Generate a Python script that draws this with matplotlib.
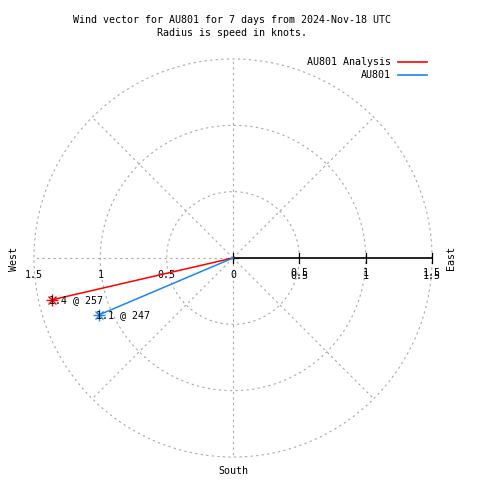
import numpy as np
import matplotlib
matplotlib.use("Agg")
import matplotlib.pyplot as plt

# data
names = ["AU801 Analysis", "AU801"]
speeds = [1.4, 1.1]          # knots
directions = [257, 247]      # degrees, clockwise from north
colors = ["#ff0000", "#1c86ee"]
rings = [0.5, 1.0, 1.5]
tick_vals = [0, 0.5, 1, 1.5]

title1 = "Wind vector for AU801 for 7 days from 2024-Nov-18 UTC"
title2 = "Radius is speed in knots."

plt.rcParams['font.family'] = ['DejaVu Sans Mono']
FS = 7.2

fig = plt.figure(figsize=(4.8, 4.8), dpi=100)
ax = fig.add_axes([0, 0, 1, 1])
S = 132.7  # pixels per knot
cx, cy = 233, 258
ax.set_xlim(-cx / S, (480 - cx) / S)
ax.set_ylim(-(480 - cy) / S, cy / S)
ax.set_aspect('equal')
ax.axis('off')


def px(x, y):
    # pixel position -> data coords
    return (x - cx) / S, (cy - y) / S


grid = dict(color='#a8a8a8', lw=0.8, ls=(0, (2, 3)), zorder=1)
t = np.linspace(0, 2 * np.pi, 400)
for r in rings:
    ax.plot(r * np.cos(t), r * np.sin(t), **grid)
R = rings[-1]
for a in range(45, 360, 45):
    ang = np.radians(a)
    ax.plot([0, R * np.cos(ang)], [0, R * np.sin(ang)], **grid)

# east axis, solid with ticks
ax.plot([0, R], [0, 0], color='black', lw=1.2, zorder=2)
th = 5 / S
for v in tick_vals:
    ax.plot([v, v], [-th, th], color='black', lw=0.9, zorder=2)
ax.plot([-th, th], [0, 0], color='black', lw=0.9, zorder=2)

# tick labels (east side is drawn twice, slightly offset, as in the original)
for v in tick_vals:
    lab = "%g" % v
    ax.text(-v, px(0, 275)[1], lab, ha='center', va='center', fontsize=FS)
    if v > 0:
        ax.text(v, px(0, 273)[1], lab, ha='center', va='center', fontsize=FS)
        ax.text(v, px(0, 276)[1], lab, ha='center', va='center', fontsize=FS)

# compass labels
ax.text(*px(14, 259), "West", rotation=90, ha='center', va='center', fontsize=FS)
ax.text(*px(451, 258), "East", rotation=90, ha='center', va='center', fontsize=FS)
ax.text(*px(233, 471), "South", ha='center', va='center', fontsize=FS)

# vectors
for name, sp, d, c in zip(names, speeds, directions, colors):
    th_r = np.radians(d)
    x, y = sp * np.sin(th_r), sp * np.cos(th_r)
    ax.plot([0, x], [0, y], color=c, lw=1.1, zorder=3)
    ax.plot([x], [y], marker='x', color=c, ms=6, mew=1, zorder=4)
    ax.plot([x], [y], marker='+', color=c, ms=8, mew=1, zorder=4)
    ax.text(x - 3 / S, y, "%.1f @ %d" % (sp, d), ha='left', va='center',
            fontsize=FS, zorder=5)

# legend
for i, (name, c) in enumerate(zip(names, colors)):
    yy = 62 + 13 * i
    ax.text(*px(391, yy), name, ha='right', va='center', fontsize=FS)
    x0, y0 = px(398, yy)
    x1, _ = px(427, yy)
    ax.plot([x0, x1], [y0, y0], color=c, lw=1.2)

# title
ax.text(*px(232, 20), title1, ha='center', va='center', fontsize=FS)
ax.text(*px(232, 33), title2, ha='center', va='center', fontsize=FS)

fig.savefig("out.png", dpi=100)
